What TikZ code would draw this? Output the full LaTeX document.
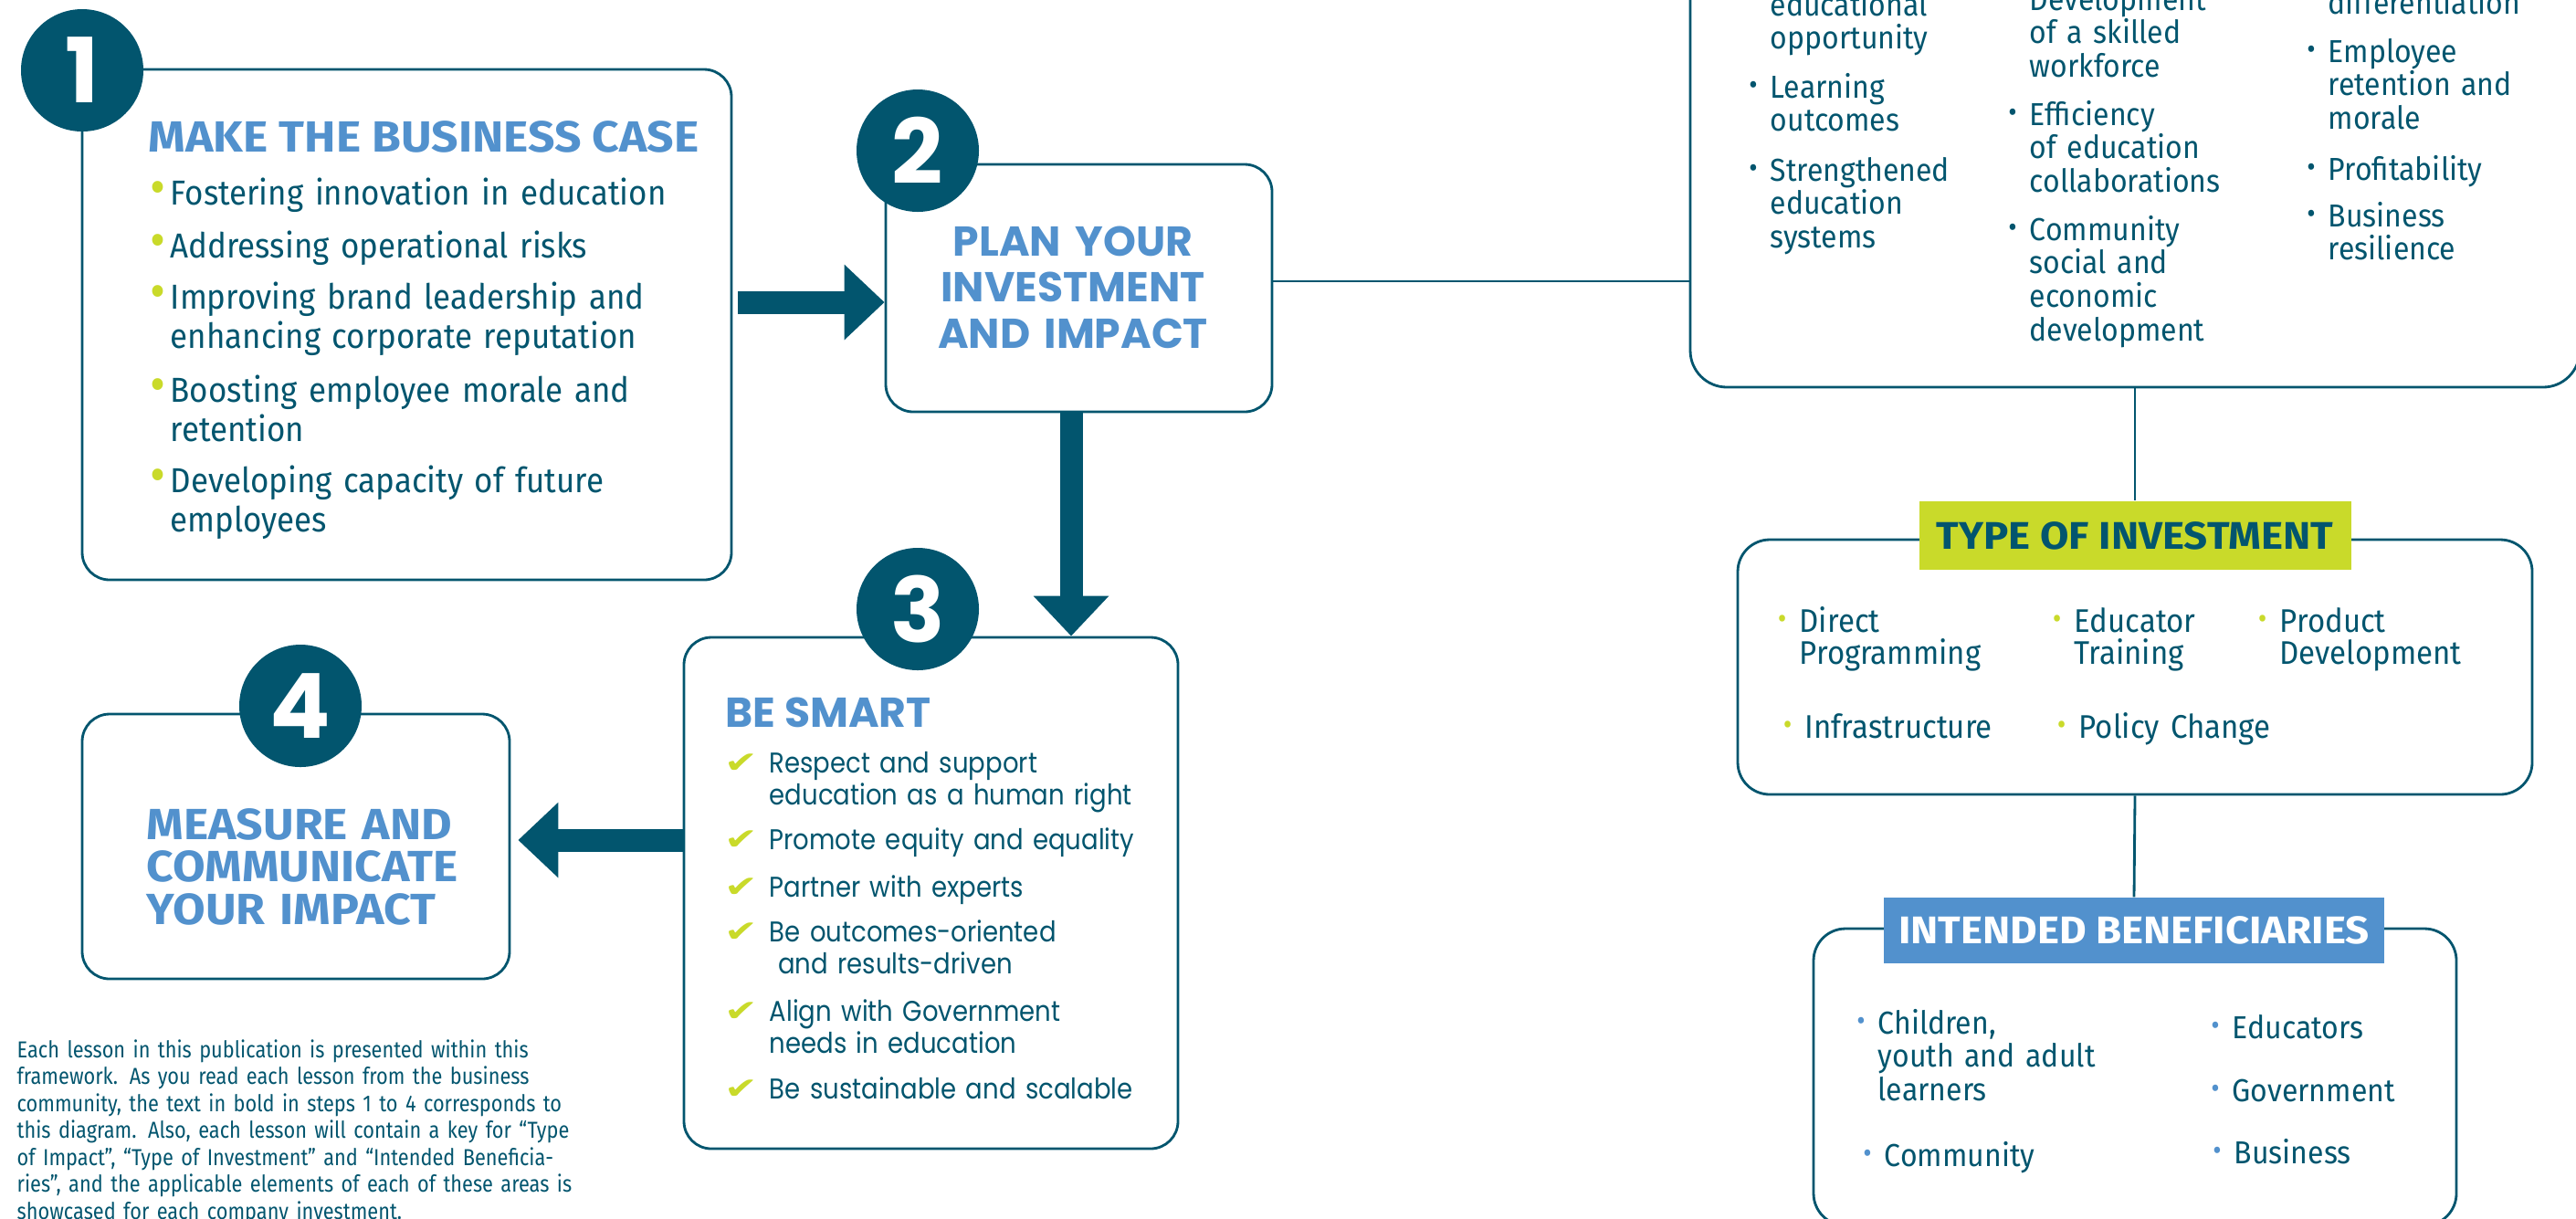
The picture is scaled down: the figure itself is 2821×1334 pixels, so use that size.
\documentclass[tikz,border=0pt]{standalone}
\usepackage{graphicx}
\usepackage{fontspec}
\setmainfont{Fira Sans}[FakeStretch=0.92]
\newfontfamily\narrowfont{Fira Sans}[FakeStretch=0.86]
\newfontfamily\headfont{Fira Sans}[FakeStretch=1.08]
\newfontfamily\geofont{Poppins}
\newfontfamily\geonarrow{Poppins}[FakeStretch=0.88]
\newfontfamily\symfont{DejaVu Sans}
\usetikzlibrary{arrows.meta}

\definecolor{petrol}{RGB}{2,85,110}
\definecolor{skyblue}{RGB}{82,145,205}
\definecolor{limegreen}{RGB}{201,218,42}

\newcommand{\bigbul}{\makebox[0pt][r]{\textcolor{limegreen}{\scalebox{1.5}{•}}\hspace{0.15em}}}
\newcommand{\smbul}[1]{\makebox[0pt][r]{\textcolor{#1}{\raisebox{0.1em}{\scalebox{0.9}{•}}}\hspace{0.4em}}}
\newcommand{\chk}{\makebox[0pt][r]{\textcolor{limegreen}{\symfont\scalebox{1.4}[1.05]{✔}}\hspace{0.4em}}}

\tikzset{
  box/.style={draw=petrol, line width=0.8pt, rounded corners=3mm, fill=white},
  num/.style={circle, fill=petrol, minimum size=13.4mm, inner sep=0pt, text=white,
    font=\geofont\bfseries\fontsize{28}{28}\selectfont},
  bigarrow/.style={draw=petrol, line width=2.5mm, -{Triangle[length=4.4mm, width=8mm]}},
  link/.style={draw=petrol, line width=0.8pt},
  tag/.style={inner sep=0pt, font=\headfont\bfseries\fontsize{12}{12}\selectfont},
  boxhead/.style={inner sep=0pt, text=skyblue, font=\headfont\bfseries\fontsize{13.6}{13.3}\selectfont},
  roundhead/.style={inner sep=0pt, text=skyblue, font=\geofont\bfseries\fontsize{13}{14.5}\selectfont},
  caseitem/.style={anchor=base west, inner sep=0pt, text width=62mm, align=left, text=petrol,
    font=\fontsize{10.8}{12.5}\selectfont},
  smartitem/.style={anchor=base west, inner sep=0pt, text width=46mm, align=left, text=petrol,
    font=\geonarrow\fontsize{8.9}{10.1}\selectfont},
  keyitem/.style={anchor=base west, inner sep=0pt, text width=32mm, align=left, text=petrol,
    font=\fontsize{9.9}{10.5}\selectfont},
  note/.style={anchor=base west, inner sep=0pt, text width=66mm, align=left, text=petrol,
    font=\narrowfont\fontsize{7.2}{8.4}\selectfont}
}

\begin{document}
\begin{tikzpicture}[x=0.1mm, y=-0.1mm]
\useasboundingbox (0,0) rectangle (2821,1334);
\clip (0,0) rectangle (2821,1334);

% the four steps
\node[box, minimum width=71.1mm, minimum height=55.9mm] (case) at (445.5,355.5) {};
\node[box, minimum width=42.3mm, minimum height=27.1mm] (plan) at (1181.5,315.5) {};
\node[box, minimum width=54.1mm, minimum height=56mm] (smart) at (1019.5,978) {};
\node[box, minimum width=46.8mm, minimum height=29mm] (measure) at (324,927) {};

% the key on the right
\node[box, rounded corners=4mm, minimum width=97.4mm, minimum height=60mm] (impact) at (2338,124) {};
\node[box, rounded corners=3.5mm, minimum width=87mm, minimum height=27.9mm] (invest) at (2338,730.5) {};
\node[box, rounded corners=3.5mm, minimum width=70.4mm, minimum height=32.5mm] (benef) at (2338,1179.5) {};
\node[tag, fill=limegreen, text=petrol, minimum width=47.3mm, minimum height=7.5mm] (invlab) at (2338,586.5) {TYPE OF INVESTMENT};
\node[tag, fill=skyblue, text=white, minimum width=54.8mm, minimum height=7.2mm] (beneflab) at (2337,1019) {INTENDED BENEFICIARIES};

\draw[link] ([yshift=0.75mm]plan.east) -- ([yshift=0.75mm]plan.east -| impact.west);
\draw[link] (impact.south) -- (invlab.north);
\draw[link] (invest.south) -- (beneflab.north);

% arrows between the steps
\draw[bigarrow] ([xshift=0.6mm, yshift=2.45mm]case.east) -- ([yshift=2.45mm]case.east -| plan.west);
\draw[bigarrow] ([xshift=-0.85mm]plan.south) -- ([xshift=-0.85mm]plan.south |- smart.north);
\draw[bigarrow] ([yshift=5.8mm]smart.west) -- ([yshift=5.8mm, xshift=0.8mm]smart.west -| measure.east);

% numbers
\node[num] (n1) at (90,77) {1};
\node[num] (n2) at (1005,165) {2};
\node[num] (n3) at (1005,667) {3};
\node[num] (n4) at (329,773) {4};

% step 1
\node[boxhead, anchor=base west] (casehead) at (162,166) {MAKE THE BUSINESS CASE};
\foreach \y/\t [count=\i] in {224/Fostering innovation in education,
    282/Addressing operational risks,
    338/{Improving brand leadership and\\enhancing corporate reputation},
    440/{Boosting employee morale and\\retention},
    539/{Developing capacity of future\\employees}}
  \node[caseitem] (case\i) at (186,\y) {\bigbul\t};

% step 2
\node[roundhead, anchor=base, text width=42mm, align=center] (planhead) at (1175,280) {PLAN YOUR\\INVESTMENT\\AND IMPACT};

% step 3
\node[roundhead, anchor=base west] (smarthead) at (794,796) {BE SMART};
\foreach \y/\t [count=\i] in {846/{Respect and support\\education as a human right},
    930/Promote equity and equality,
    982/Partner with experts,
    1031/{Be outcomes-oriented\\\hspace*{0.3em}and results-driven},
    1118/{Align with Government\\needs in education},
    1203/Be sustainable and scalable}
  \node[smartitem] (smart\i) at (842,\y) {\chk\t};

% step 4
\node[boxhead, anchor=base west, text width=45mm, align=left] (measurehead) at (160,919) {MEASURE AND\\COMMUNICATE\\YOUR IMPACT};

\node[note] (note) at (18,1158) {Each lesson in this publication is presented within this\\
framework. As you read each lesson from the business\\
community, the text in bold in steps 1 to 4 corresponds to\\
this diagram. Also, each lesson will contain a key for “Type\\
of Impact”, “Type of Investment” and “Intended Beneficia-\\
ries”, and the applicable elements of each of these areas is\\
showcased for each company investment.};

% type of impact
\foreach \x/\y/\t [count=\i] in {1938/17/{educational\\opportunity},
    1938/107/{\smbul{petrol}Learning\\outcomes},
    1938/198/{\smbul{petrol}Strengthened\\education\\systems},
    2222/11/{\smbul{petrol}Development\\of a skilled\\workforce},
    2222/137/{\smbul{petrol}Efficiency\\of education\\collaborations},
    2222/263/{\smbul{petrol}Community\\social and\\economic\\development},
    2549/15/differentiation,
    2549/68/{\smbul{petrol}Employee\\retention and\\morale},
    2549/197/{\smbul{petrol}Profitability},
    2549/248/{\smbul{petrol}Business\\resilience}}
  \node[keyitem] (imp\i) at (\x,\y) {\t};

% type of investment
\foreach \x/\y/\t [count=\i] in {1970/692/{Direct\\Programming},
    2271/692/{Educator\\Training},
    2496/692/{Product\\Development},
    1976/808/Infrastructure,
    2276/808/Policy Change}
  \node[keyitem, font=\fontsize{10.2}{10.2}\selectfont] (inv\i) at (\x,\y) {\smbul{limegreen}\t};

% intended beneficiaries
\foreach \x/\y/\t [count=\i] in {2056/1132/{Children,\\youth and adult\\learners},
    2063/1277/Community,
    2444/1137/Educators,
    2444/1206/Government,
    2446/1274/Business}
  \node[keyitem] (ben\i) at (\x,\y) {\smbul{skyblue}\t};
\end{tikzpicture}
\end{document}
